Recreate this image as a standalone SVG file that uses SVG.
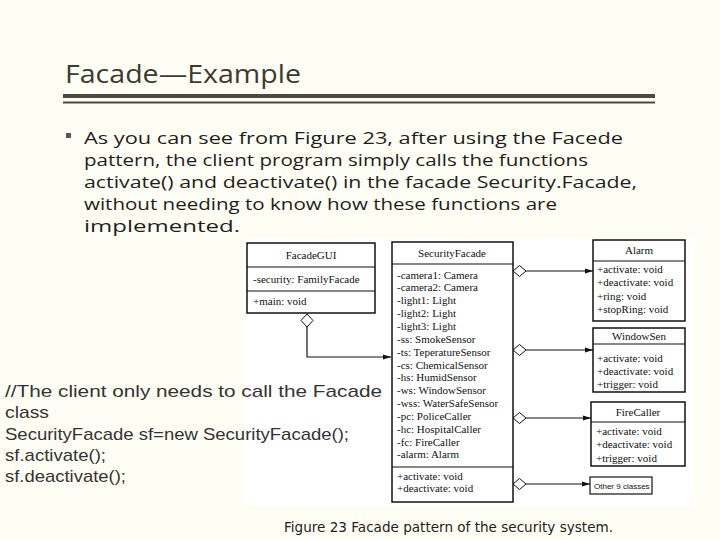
<svg xmlns="http://www.w3.org/2000/svg" width="720" height="540" viewBox="0 0 720 540">
<defs>
<style>
.bg{fill:#fefef4}
.title{font-family:"Open Sans","Liberation Sans",sans-serif;font-size:26px;fill:#3d3a30}
.body{font-family:"Open Sans","Liberation Sans",sans-serif;font-size:16.5px;fill:#1e1e1e}
.code{font-family:"Liberation Sans","DejaVu Sans",sans-serif;font-size:17px;fill:#333}
.cap{font-family:"DejaVu Sans","Liberation Sans",sans-serif;font-size:13.5px;fill:#222}
.uml{font-family:"Liberation Serif","DejaVu Serif",serif;font-size:11px;fill:#111}
.small{font-family:"Liberation Sans",sans-serif;font-size:8px;fill:#111}
.box{fill:#fff;stroke:#111;stroke-width:1.5}
.ln{stroke:#111;stroke-width:1.2;fill:none}
.dia{fill:#fff;stroke:#111;stroke-width:1}
</style>
<marker id="arr" viewBox="0 0 8 8" refX="8" refY="4" markerWidth="8" markerHeight="8" markerUnits="userSpaceOnUse" orient="auto">
<path d="M0,1.5 L8,4 L0,6.5 Z" fill="#111"/>
</marker>
</defs>
<rect class="bg" x="0" y="0" width="720" height="540"/>
<text class="title" x="65" y="83" textLength="236" lengthAdjust="spacingAndGlyphs">Facade—Example</text>
<rect x="63" y="94" width="592" height="4" fill="#4d4a3f"/>
<rect x="63" y="101.5" width="592" height="2" fill="#4d4a3f"/>
<rect x="66" y="133" width="5" height="5" fill="#555"/>
<g class="body">
<text x="84" y="144" textLength="539" lengthAdjust="spacingAndGlyphs">As you can see from Figure 23, after using the Facede</text>
<text x="84" y="166" textLength="504" lengthAdjust="spacingAndGlyphs">pattern, the client program simply calls the functions</text>
<text x="84" y="188" textLength="553" lengthAdjust="spacingAndGlyphs">activate() and deactivate() in the facade Security.Facade,</text>
<text x="84" y="210" textLength="473" lengthAdjust="spacingAndGlyphs">without needing to know how these functions are</text>
<text x="84" y="232" textLength="156" lengthAdjust="spacingAndGlyphs">implemented.</text>
</g>
<rect x="245" y="238" width="449" height="268" fill="#ffffff"/>
<g class="code">
<text x="5" y="397" textLength="377" lengthAdjust="spacingAndGlyphs">//The client only needs to call the Facade</text>
<text x="5" y="418" textLength="44" lengthAdjust="spacingAndGlyphs">class</text>
<text x="5" y="440" textLength="344" lengthAdjust="spacingAndGlyphs">SecurityFacade sf=new SecurityFacade();</text>
<text x="5" y="461" textLength="101" lengthAdjust="spacingAndGlyphs">sf.activate();</text>
<text x="5" y="482" textLength="121" lengthAdjust="spacingAndGlyphs">sf.deactivate();</text>
</g>
<g id="facadegui">
<rect class="box" x="247" y="243" width="128" height="70"/>
<line class="ln" x1="247" y1="267" x2="375" y2="267"/>
<line class="ln" x1="247" y1="291" x2="375" y2="291"/>
<text class="uml" x="311" y="259" text-anchor="middle">FacadeGUI</text>
<text class="uml" x="253" y="283">-security: FamilyFacade</text>
<text class="uml" x="253" y="305">+main: void</text>
</g>
<g id="securityfacade">
<rect class="box" x="392" y="242" width="121" height="260"/>
<line class="ln" x1="392" y1="264" x2="513" y2="264"/>
<line class="ln" x1="392" y1="467" x2="513" y2="467"/>
<text class="uml" x="452" y="257" text-anchor="middle">SecurityFacade</text>
<text class="uml" x="397" y="279">-camera1: Camera</text>
<text class="uml" x="397" y="291">-camera2: Camera</text>
<text class="uml" x="397" y="304">-light1: Light</text>
<text class="uml" x="397" y="317">-light2: Light</text>
<text class="uml" x="397" y="330">-light3: Light</text>
<text class="uml" x="397" y="343">-ss: SmokeSensor</text>
<text class="uml" x="397" y="356">-ts: TeperatureSensor</text>
<text class="uml" x="397" y="369">-cs: ChemicalSensor</text>
<text class="uml" x="397" y="381">-hs: HumidSensor</text>
<text class="uml" x="397" y="394">-ws: WindowSensor</text>
<text class="uml" x="397" y="407">-wss: WaterSafeSensor</text>
<text class="uml" x="397" y="420">-pc: PoliceCaller</text>
<text class="uml" x="397" y="433">-hc: HospitalCaller</text>
<text class="uml" x="397" y="446">-fc: FireCaller</text>
<text class="uml" x="397" y="458">-alarm: Alarm</text>
<text class="uml" x="397" y="480">+activate: void</text>
<text class="uml" x="397" y="492">+deactivate: void</text>
</g>
<g id="alarm">
<rect class="box" x="593" y="240" width="92" height="81"/>
<line class="ln" x1="593" y1="261" x2="685" y2="261"/>
<text class="uml" x="639" y="254" text-anchor="middle">Alarm</text>
<text class="uml" x="597" y="273">+activate: void</text>
<text class="uml" x="597" y="286">+deactivate: void</text>
<text class="uml" x="597" y="300">+ring: void</text>
<text class="uml" x="597" y="313">+stopRing: void</text>
</g>
<g id="windowsen">
<rect class="box" x="593" y="328" width="92" height="64"/>
<line class="ln" x1="593" y1="344" x2="685" y2="344"/>
<text class="uml" x="639" y="340" text-anchor="middle">WindowSen</text>
<text class="uml" x="597" y="362">+activate: void</text>
<text class="uml" x="597" y="375">+deactivate: void</text>
<text class="uml" x="597" y="388">+trigger: void</text>
</g>
<g id="firecaller">
<rect class="box" x="591" y="402" width="94" height="64"/>
<line class="ln" x1="591" y1="422" x2="685" y2="422"/>
<text class="uml" x="638" y="416" text-anchor="middle">FireCaller</text>
<text class="uml" x="596" y="435">+activate: void</text>
<text class="uml" x="596" y="448">+deactivate: void</text>
<text class="uml" x="596" y="462">+trigger: void</text>
</g>
<g id="other">
<rect class="box" x="590" y="477" width="62" height="17" style="stroke-width:1.2"/>
<text class="small" x="594" y="489">Other 9 classes</text>
</g>
<g id="connectors">
<path class="ln" d="M307,327 L307,357 L391,357" marker-end="url(#arr)"/>
<path class="dia" d="M307,314 L313,320.5 L307,327 L301,320.5 Z"/>
<path class="ln" d="M526,271 L593,271" marker-end="url(#arr)"/>
<path class="dia" d="M513,271 L519.5,265.5 L526,271 L519.5,276.5 Z"/>
<path class="ln" d="M526,350 L593,350" marker-end="url(#arr)"/>
<path class="dia" d="M513,350 L519.5,344.5 L526,350 L519.5,355.5 Z"/>
<path class="ln" d="M526,418 L591,418" marker-end="url(#arr)"/>
<path class="dia" d="M513,418 L519.5,412.5 L526,418 L519.5,423.5 Z"/>
<path class="ln" d="M526,484 L590,484" marker-end="url(#arr)"/>
<path class="dia" d="M513,484 L519.5,478.5 L526,484 L519.5,489.5 Z"/>
</g>
<text class="cap" x="284" y="532" textLength="329" lengthAdjust="spacingAndGlyphs">Figure 23 Facade pattern of the security system.</text>
</svg>
